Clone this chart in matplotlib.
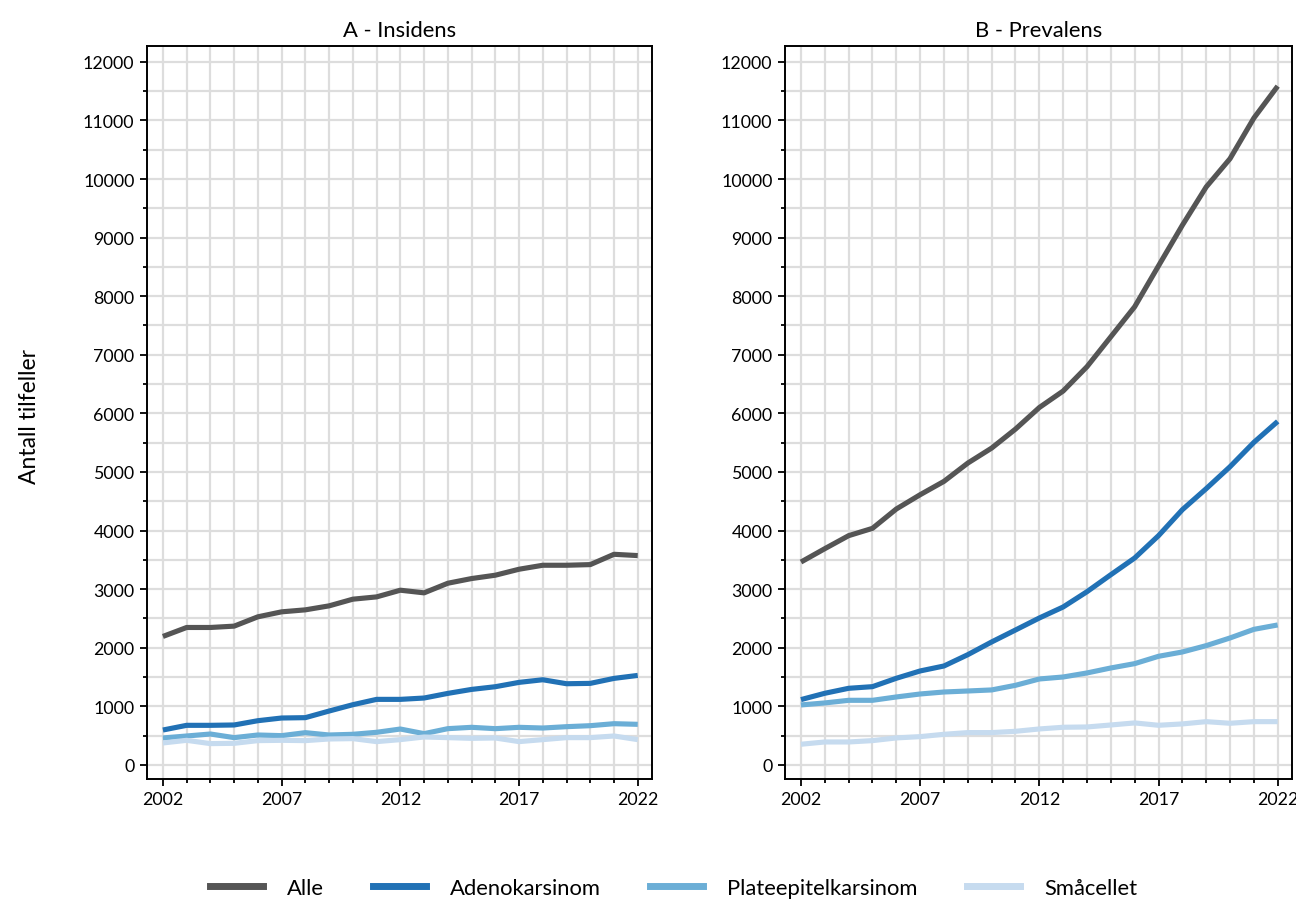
import matplotlib
matplotlib.use("Agg")
import matplotlib.pyplot as plt
from matplotlib.ticker import MultipleLocator, FixedLocator
from matplotlib.lines import Line2D

plt.rcParams['font.family'] = ['Lato', 'DejaVu Sans']

years = list(range(2002, 2023))

series_names = ["Alle", "Adenokarsinom", "Plateepitelkarsinom", "Småcellet"]
series_colors = ["#555555", "#2171b5", "#6baed6", "#c6dbef"]

# A - Insidens
inc_alle = [2193, 2346, 2346, 2369, 2528, 2613, 2647, 2715, 2829, 2868, 2982,
            2937, 3101, 3181, 3238, 3340, 3408, 3408, 3419, 3595, 3573]
inc_adeno = [596, 676, 676, 682, 755, 801, 807, 920, 1028, 1119, 1119,
             1142, 1221, 1289, 1335, 1409, 1454, 1386, 1392, 1477, 1528]
inc_plate = [460, 494, 528, 466, 511, 500, 551, 511, 523, 557, 613,
             534, 619, 642, 619, 642, 630, 653, 670, 704, 693]
inc_smaa = [375, 420, 364, 369, 415, 420, 415, 443, 449, 398, 432,
            477, 466, 454, 460, 398, 432, 466, 466, 494, 432]

# B - Prevalens
prev_alle = [3463, 3691, 3913, 4038, 4368, 4612, 4840, 5152, 5408, 5732, 6100,
             6382, 6797, 7308, 7820, 8518, 9211, 9864, 10347, 11040, 11585]
prev_adeno = [1115, 1223, 1308, 1336, 1479, 1604, 1689, 1882, 2099, 2303, 2508,
              2696, 2957, 3247, 3532, 3913, 4356, 4715, 5090, 5505, 5863]
prev_plate = [1024, 1058, 1103, 1103, 1160, 1211, 1245, 1262, 1280, 1359, 1467,
              1501, 1570, 1655, 1729, 1854, 1928, 2036, 2167, 2314, 2389]
prev_smaa = [353, 392, 392, 415, 461, 483, 523, 552, 552, 574, 614,
             643, 648, 682, 717, 677, 700, 739, 711, 739, 739]

panels = [
    ("A - Insidens", [inc_alle, inc_adeno, inc_plate, inc_smaa]),
    ("B - Prevalens", [prev_alle, prev_adeno, prev_plate, prev_smaa]),
]

fig = plt.figure(figsize=(12.96, 9.03), dpi=100)
ax_rects = [
    [147 / 1296, 123 / 903, 505 / 1296, 733 / 903],
    [785 / 1296, 123 / 903, 507 / 1296, 733 / 903],
]

for rect, (title, data) in zip(ax_rects, panels):
    ax = fig.add_axes(rect)
    ax.set_axisbelow(True)
    for vals, color in zip(data, series_colors):
        ax.plot(years, vals, color=color, linewidth=3.7, solid_capstyle='butt',
                solid_joinstyle='round', zorder=3)
    ax.set_xlim(2001.33, 2022.6)
    ax.set_ylim(-240, 12270)
    ax.xaxis.set_major_locator(FixedLocator([2002, 2007, 2012, 2017, 2022]))
    ax.xaxis.set_minor_locator(MultipleLocator(1))
    ax.yaxis.set_major_locator(MultipleLocator(1000))
    ax.yaxis.set_minor_locator(MultipleLocator(500))
    ax.grid(which='both', color='#dddddd', linewidth=1.6)
    ax.tick_params(which='major', direction='out', length=5, width=1.3,
                   labelsize=12.8, colors='black', pad=4)
    ax.tick_params(which='minor', direction='out', length=3, width=1.3)
    for sp in ax.spines.values():
        sp.set_linewidth(1.4)
        sp.set_color('black')
    ax.set_title(title, fontsize=15.8, pad=7)

fig.text(30 / 1296, 1 - 416 / 903, "Antall tilfeller", rotation=90,
         ha='center', va='center', fontsize=16.5)

handles = [Line2D([0], [0], color=c, linewidth=5) for c in series_colors]
fig.legend(handles, series_names, loc='center', ncol=4,
           bbox_to_anchor=(673.5 / 1296, 1 - 889 / 903), frameon=False,
           fontsize=15.8, handlelength=2.4, columnspacing=2.25,
           handletextpad=1.1)

fig.savefig("out.png", dpi=100)
